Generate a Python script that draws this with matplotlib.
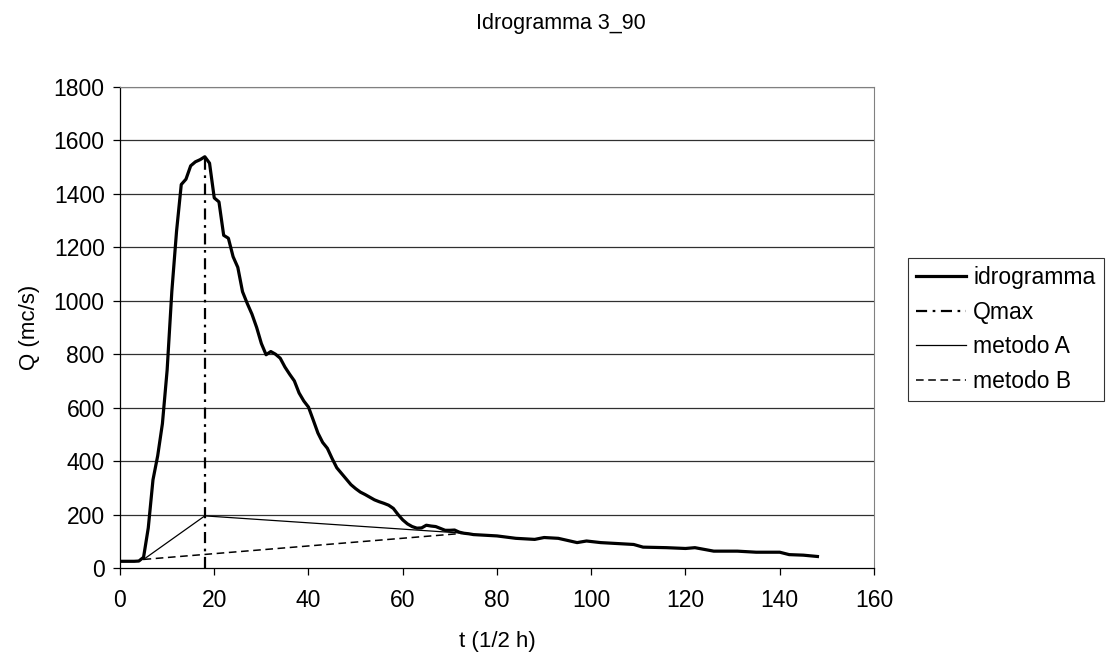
import matplotlib
matplotlib.use("Agg")
import matplotlib.pyplot as plt

plt.rcParams['font.family'] = ['Liberation Sans', 'DejaVu Sans']

# idrogramma (t in half hours, Q in mc/s)
t_idro = [0, 1, 2, 3, 4, 5, 6, 7, 8, 9, 10, 11, 12, 13, 14, 15, 16, 17, 18, 19,
          20, 21, 22, 23, 24, 25, 26, 27, 28, 29, 30, 31, 32, 33, 34, 35, 36, 37, 38, 39,
          40, 41, 42, 43, 44, 45, 46, 47, 48, 49, 50, 51, 52, 53, 54, 55, 56, 57, 58, 59,
          60, 61, 62, 63, 64, 65, 66, 67, 68, 69, 70, 71, 72, 73, 74, 75, 76,
          80, 84, 88, 90, 93, 97, 99, 102, 109, 111, 116, 120, 122, 126, 131, 135, 140,
          142, 145, 148]
q_idro = [25, 25, 25, 25, 26, 40, 150, 330, 420, 540, 740, 1035, 1260, 1435, 1455, 1505, 1520, 1528, 1539, 1515,
          1385, 1370, 1245, 1234, 1165, 1125, 1034, 990, 950, 900, 840, 798, 810, 800, 785, 752, 725, 700, 655, 625,
          602, 554, 505, 470, 448, 410, 375, 354, 333, 312, 297, 284, 275, 265, 255, 248, 242, 235, 223, 200,
          180, 165, 155, 149, 150, 160, 157, 155, 148, 141, 141, 142, 134, 130, 128, 125, 124,
          120, 111, 107, 114, 111, 95, 101, 95, 88, 78, 76, 73, 76, 63, 63, 59, 59,
          50, 48, 43]

t_qmax = [18, 18]
q_qmax = [0, 1539]

t_metA = [5, 18, 73]
q_metA = [32, 195, 130]

t_metB = [5, 73]
q_metB = [32, 130]

fig = plt.figure(figsize=(11.08, 6.64), dpi=100)
ax = fig.add_axes([0.1083, 0.1446, 0.6805, 0.7244])

for y in range(200, 1801, 200):
    ax.axhline(y, color='#303030', lw=0.9, zorder=1)

ax.plot(t_idro, q_idro, color='black', lw=2.3, label='idrogramma', zorder=4)
ax.plot(t_qmax, q_qmax, color='black', lw=1.6, linestyle=(0, (5, 2.5, 1.2, 2.5)), label='Qmax', zorder=3)
ax.plot(t_metA, q_metA, color='black', lw=0.9, label='metodo A', zorder=3)
ax.plot(t_metB, q_metB, color='black', lw=1.1, linestyle=(0, (5, 3)), label='metodo B', zorder=3)

ax.set_xlim(0, 160)
ax.set_ylim(0, 1800)
ax.set_xticks(range(0, 161, 20))
ax.set_yticks(range(0, 1801, 200))
ax.tick_params(direction='out', length=5, width=0.9, labelsize=16.5, colors='black')
ax.tick_params(axis='x', pad=10)
ax.tick_params(axis='y', pad=6)
ax.spines['top'].set_color('#808080')
ax.spines['right'].set_color('#808080')
for s in ['left', 'bottom']:
    ax.spines[s].set_linewidth(0.9)

ax.set_xlabel('t (1/2 h)', fontsize=16, labelpad=14)
ax.set_ylabel('Q (mc/s)', fontsize=16, labelpad=10)
fig.text(0.506, 0.965, 'Idrogramma 3_90', ha='center', va='center', fontsize=15.5)

leg = ax.legend(loc='upper left', bbox_to_anchor=(0.8195, 0.611), bbox_transform=fig.transFigure,
                fontsize=16.5, frameon=True, fancybox=False, borderpad=0.35, labelspacing=0.5,
                handlelength=2.2, handletextpad=0.3, borderaxespad=0)
leg.get_frame().set_edgecolor('black')
leg.get_frame().set_linewidth(0.8)

fig.savefig('out.png', dpi=100)
